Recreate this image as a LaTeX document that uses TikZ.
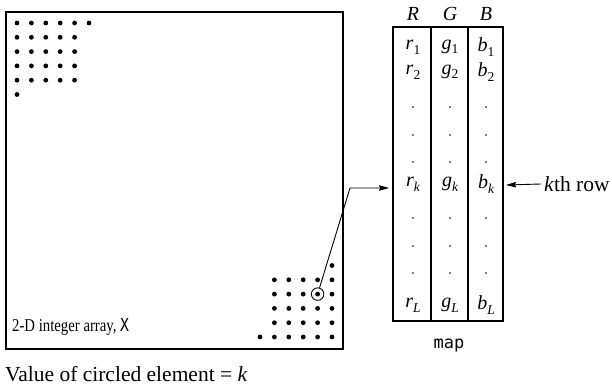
\documentclass[tikz,border=0pt]{standalone}
\usepackage{fontspec}
\usepackage{graphicx}
\setmainfont{Liberation Serif}
\newfontfamily\codefont{DejaVu Sans Mono}
\usetikzlibrary{arrows.meta}
% lowered subscript for table entries
\newcommand\sbs[1]{\raisebox{-0.5ex}{\fontsize{13.5}{15}\selectfont #1}}
\newcommand\ent[2]{\textit{#1}\sbs{#2}}
\begin{document}
\begin{tikzpicture}[x=1pt,y=-1pt,
  font=\fontsize{20}{24}\selectfont,
  frame/.style={draw, line width=1.1pt, inner sep=0pt},
  rule/.style={line width=1.1pt},
  dotmark/.style={fill=black},
  cell/.style={inner sep=0pt, anchor=center},
  conn/.style={line width=0.9pt, -{Stealth[length=10pt,width=5.5pt,inset=1pt]}},
  ring/.style={circle, draw, line width=0.9pt, minimum size=12.5pt, inner sep=0pt}]
\useasboundingbox (0,0) rectangle (612,387);

% the integer array
\node[frame, minimum width=337pt, minimum height=337pt] (arr) at (174.5,180.5) {};

% top-left corner elements
\foreach \i in {0,...,5} \fill[dotmark] (17+14.4*\i,23) circle (2.4pt);
\foreach \j in {1,...,4} \foreach \i in {0,...,4} \fill[dotmark] (17+14.4*\i,23+14.3*\j) circle (2.4pt);
\fill[dotmark] (17,23+14.3*5) circle (2.4pt);

% bottom-right corner elements
\foreach \i in {0,...,5} \fill[dotmark] (332-14.4*\i,337) circle (2.4pt);
\foreach \j in {1,...,4} \foreach \i in {0,...,4} \fill[dotmark] (332-14.4*\i,337-14.3*\j) circle (2.4pt);
\fill[dotmark] (332,337-14.3*5) circle (2.4pt);

% circled element
\node[ring] (c) at (317.6,294.1) {};

% array label, set in a narrowed face
\node[anchor=west, inner sep=0pt, font=\fontsize{18}{20}\selectfont] (arrlabel) at (12,327)
  {\scalebox{0.82}[1]{2-D integer array, {\codefont X}}};
\node[anchor=west, inner sep=0pt, font=\fontsize{21.5}{24}\selectfont] (caption) at (5,374) {Value of circled element = \textit{k}};

% the colormap table
\node[frame, minimum width=110pt, minimum height=294pt] (map) at (448,174) {};
\draw[rule] (431,27) -- (431,321);
\draw[rule] (468,27) -- (468,321);

\node[cell] (hR) at (413,14) {\textit{R}};
\node[cell] (hG) at (450,14) {\textit{G}};
\node[cell] (hB) at (486,14) {\textit{B}};

\foreach \x/\c/\n in {413/r/R, 450/g/G, 486/b/B} {
  \node[cell] (\n1) at (\x,47) {\ent{\c}{1}};
  \node[cell] (\n2) at (\x,72) {\ent{\c}{2}};
  \node[cell] (\n k) at (\x,184) {\ent{\c}{\itshape k}};
  \node[cell] (\n L) at (\x,305) {\ent{\c}{\itshape L}};
  \foreach \y in {107,135,162,218,246,273} \fill (\x,\y) circle (0.9pt);
}

\node[inner sep=0pt] (maplabel) at (449,346) {\codefont\fontsize{17}{20}\selectfont map};

% connector from the circled element to row k
\coordinate (bend) at (350,188);
\coordinate (kin) at (389,188);
\draw[conn] (c) -- (bend) -- (kin);

% row pointer
\node[anchor=west, inner sep=0pt, font=\fontsize{21.5}{24}\selectfont] (krow) at (544,184) {\textit{k}th row};
\coordinate (kout) at (506,185);
\draw[conn] ([xshift=-3pt]krow.west) -- (kout);
\end{tikzpicture}
\end{document}
